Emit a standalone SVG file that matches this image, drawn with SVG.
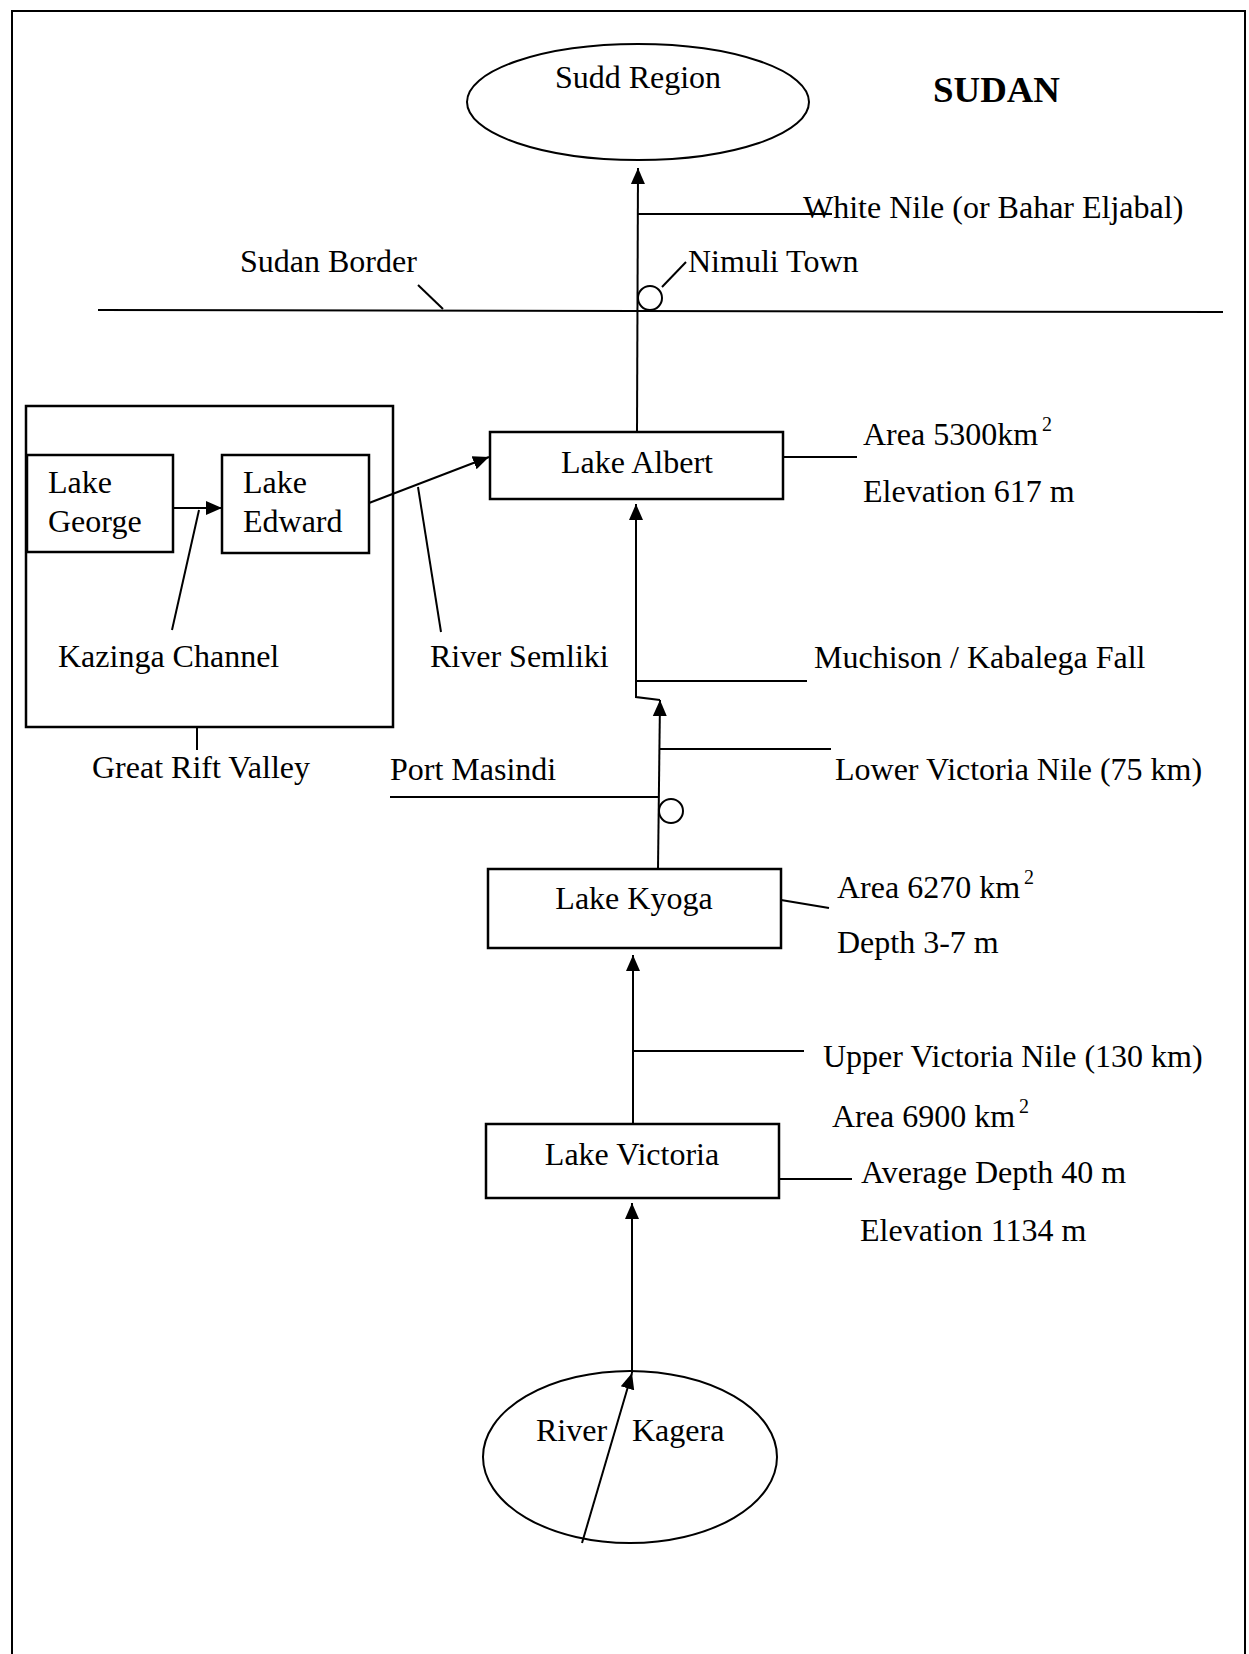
<svg xmlns="http://www.w3.org/2000/svg" width="1249" height="1654" viewBox="0 0 1249 1654">
<defs>
<style>
text{font-family:"Liberation Serif","Times New Roman",serif;font-size:32px;fill:#000}
.b{font-weight:bold;font-size:36px}
.m{text-anchor:middle}
.sup{font-size:20px}
.box{fill:#fff;stroke:#000;stroke-width:2.5}
.ln{fill:none;stroke:#000;stroke-width:2}
.arr{fill:none;stroke:#000;stroke-width:2;marker-end:url(#ah)}
</style>
<marker id="ah" markerUnits="userSpaceOnUse" markerWidth="16" markerHeight="16" viewBox="0 0 16 16" refX="16" refY="8" orient="auto">
<path d="M0,1 L16,8 L0,15 z" fill="#000"/>
</marker>
</defs>
<rect width="1249" height="1654" fill="#fff"/>
<g id="frame">
<polyline class="ln" points="12,1654 12,11 1245,11 1245,1654"/>
</g>
<g id="connectors">
<line class="arr" x1="637" y1="432" x2="638" y2="168"/>
<line class="ln" x1="638" y1="214" x2="832" y2="214"/>
<line class="ln" x1="662" y1="287" x2="686" y2="262"/>
<line class="ln" x1="98" y1="310" x2="1223" y2="312"/>
<line class="ln" x1="418" y1="285" x2="443" y2="309"/>
<line class="arr" x1="173" y1="508" x2="222" y2="508"/>
<line class="ln" x1="199" y1="510" x2="172" y2="630"/>
<line class="arr" x1="369" y1="503" x2="489" y2="457"/>
<line class="ln" x1="418" y1="487" x2="441" y2="632"/>
<line class="ln" x1="197" y1="727" x2="197" y2="750"/>
<line class="ln" x1="783" y1="457" x2="857" y2="457"/>
<path class="arr" d="M660,700 L636,697 L636,504"/>
<line class="arr" x1="658" y1="869" x2="660" y2="700"/>
<line class="ln" x1="636" y1="681" x2="807" y2="681"/>
<line class="ln" x1="660" y1="749" x2="831" y2="749"/>
<line class="ln" x1="390" y1="797" x2="658" y2="797"/>
<line class="ln" x1="781" y1="900" x2="829" y2="908"/>
<line class="arr" x1="633" y1="1123" x2="633" y2="955"/>
<line class="ln" x1="633" y1="1051" x2="804" y2="1051"/>
<line class="ln" x1="779" y1="1179" x2="852" y2="1179"/>
<line class="arr" x1="632" y1="1373" x2="632" y2="1203"/>
</g>
<g id="sudd-region">
<ellipse class="ln" cx="638" cy="102" rx="171" ry="58"/>
<text x="638" y="88" class="m">Sudd Region</text>
</g>
<g id="sudan-label"><text x="933" y="102" class="b" textLength="127" lengthAdjust="spacingAndGlyphs">SUDAN</text></g>
<g id="white-nile-label"><text x="803" y="218">White Nile (or Bahar Eljabal)</text></g>
<g id="sudan-border-label"><text x="240" y="272">Sudan Border</text></g>
<g id="nimuli-town">
<circle class="ln" cx="650" cy="298" r="12"/>
<text x="688" y="272">Nimuli Town</text>
</g>
<g id="great-rift-valley">
<rect x="26" y="406" width="367" height="321" fill="none" stroke="#000" stroke-width="2.5"/>
<text x="92" y="778">Great Rift Valley</text>
</g>
<g id="lake-george">
<rect class="box" x="27" y="455" width="146" height="97"/>
<text x="48" y="493">Lake</text>
<text x="48" y="532">George</text>
</g>
<g id="lake-edward">
<rect class="box" x="222" y="455" width="147" height="98"/>
<text x="243" y="493">Lake</text>
<text x="243" y="532">Edward</text>
</g>
<g id="kazinga-label"><text x="58" y="667">Kazinga Channel</text></g>
<g id="semliki-label"><text x="430" y="667">River Semliki</text></g>
<g id="lake-albert">
<rect class="box" x="490" y="432" width="293" height="67"/>
<text x="637" y="473" class="m">Lake Albert</text>
</g>
<g id="albert-info">
<text x="863" y="445">Area 5300km<tspan class="sup" dx="4" dy="-14">2</tspan></text>
<text x="863" y="502">Elevation 617 m</text>
</g>
<g id="muchison-label"><text x="814" y="668">Muchison / Kabalega Fall</text></g>
<g id="lower-nile-label"><text x="835" y="780">Lower Victoria Nile (75 km)</text></g>
<g id="port-masindi">
<circle class="ln" cx="671" cy="811" r="12"/>
<text x="390" y="780">Port Masindi</text>
</g>
<g id="lake-kyoga">
<rect class="box" x="488" y="869" width="293" height="79"/>
<text x="634" y="909" class="m">Lake Kyoga</text>
</g>
<g id="kyoga-info">
<text x="837" y="898">Area 6270 km<tspan class="sup" dx="4" dy="-14">2</tspan></text>
<text x="837" y="953">Depth 3-7 m</text>
</g>
<g id="upper-nile-label"><text x="823" y="1067">Upper Victoria Nile (130 km)</text></g>
<g id="lake-victoria">
<rect class="box" x="486" y="1124" width="293" height="74"/>
<text x="632" y="1165" class="m">Lake Victoria</text>
</g>
<g id="victoria-info">
<text x="832" y="1127">Area 6900 km<tspan class="sup" dx="4" dy="-14">2</tspan></text>
<text x="861" y="1183">Average Depth 40 m</text>
<text x="860" y="1241">Elevation 1134 m</text>
</g>
<g id="river-kagera">
<ellipse class="ln" cx="630" cy="1457" rx="147" ry="86"/>
<text x="536" y="1441">River</text>
<text x="632" y="1441">Kagera</text>
<line class="arr" x1="582" y1="1543" x2="632" y2="1373"/>
</g>
</svg>
